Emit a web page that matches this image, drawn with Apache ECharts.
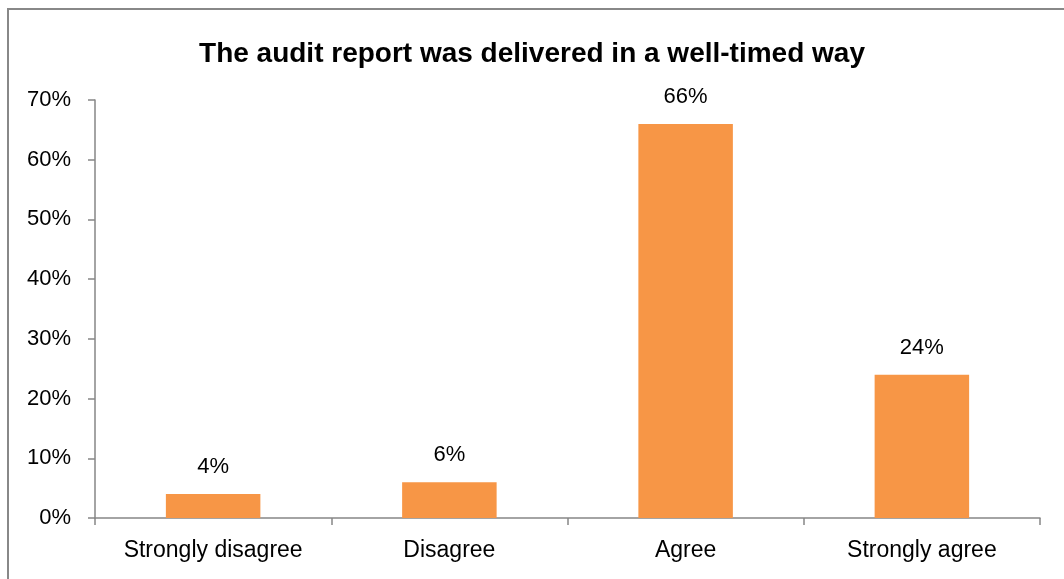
<!DOCTYPE html>
<html>
<head>
<meta charset="utf-8">
<script src="https://cdn.jsdelivr.net/npm/echarts@6/dist/echarts.min.js"></script>
<style>
  html, body { margin: 0; padding: 0; background: #fff; }
  #frame { position: absolute; left: 7px; top: 8px; width: 1060px; height: 580px; border: 2px solid #888; box-sizing: border-box; }
  #chart { position: absolute; left: 0; top: 0; width: 1064px; height: 579px; }
</style>
</head>
<body>
<div id="frame"></div>
<div id="chart"></div>
<script>
const titleText = 'The audit report was delivered in a well-timed way';
const categories = ['Strongly disagree', 'Disagree', 'Agree', 'Strongly agree'];
const shares = [4, 6, 66, 24];
const yTicks = [0, 10, 20, 30, 40, 50, 60, 70];

const chart = echarts.init(document.getElementById('chart'), null, { renderer: 'canvas' });
const font = 'Liberation Sans, Arial, sans-serif';
chart.setOption({
  animation: false,
  title: {
    text: titleText,
    left: 'center',
    top: 35,
    textStyle: { fontFamily: font, fontWeight: 'bold', fontSize: 28, color: '#000' }
  },
  grid: { left: 95, right: 24, top: 100, bottom: 61 },
  xAxis: {
    type: 'category',
    data: categories,
    axisLine: { lineStyle: { color: '#868686', width: 1.5 } },
    axisTick: { show: true, length: 7, alignWithLabel: false, lineStyle: { color: '#868686', width: 1.5 } },
    axisLabel: { fontFamily: font, fontSize: 23, color: '#000', margin: 21 }
  },
  yAxis: {
    type: 'value',
    min: yTicks[0],
    max: yTicks[yTicks.length - 1],
    interval: 10,
    splitLine: { show: false },
    axisLine: { show: true, lineStyle: { color: '#868686', width: 1.5 } },
    axisTick: { show: true, length: 7, lineStyle: { color: '#868686', width: 1.5 } },
    axisLabel: { fontFamily: font, fontSize: 22, color: '#000', margin: 24, formatter: v => v + '%' }
  },
  series: [{
    type: 'bar',
    data: shares,
    barWidth: '40%',
    itemStyle: { color: '#F79646' },
    label: {
      show: true,
      position: 'top',
      distance: 16,
      fontFamily: font,
      fontSize: 22,
      color: '#000',
      formatter: p => p.value + '%'
    }
  }]
});
</script>
</body>
</html>
